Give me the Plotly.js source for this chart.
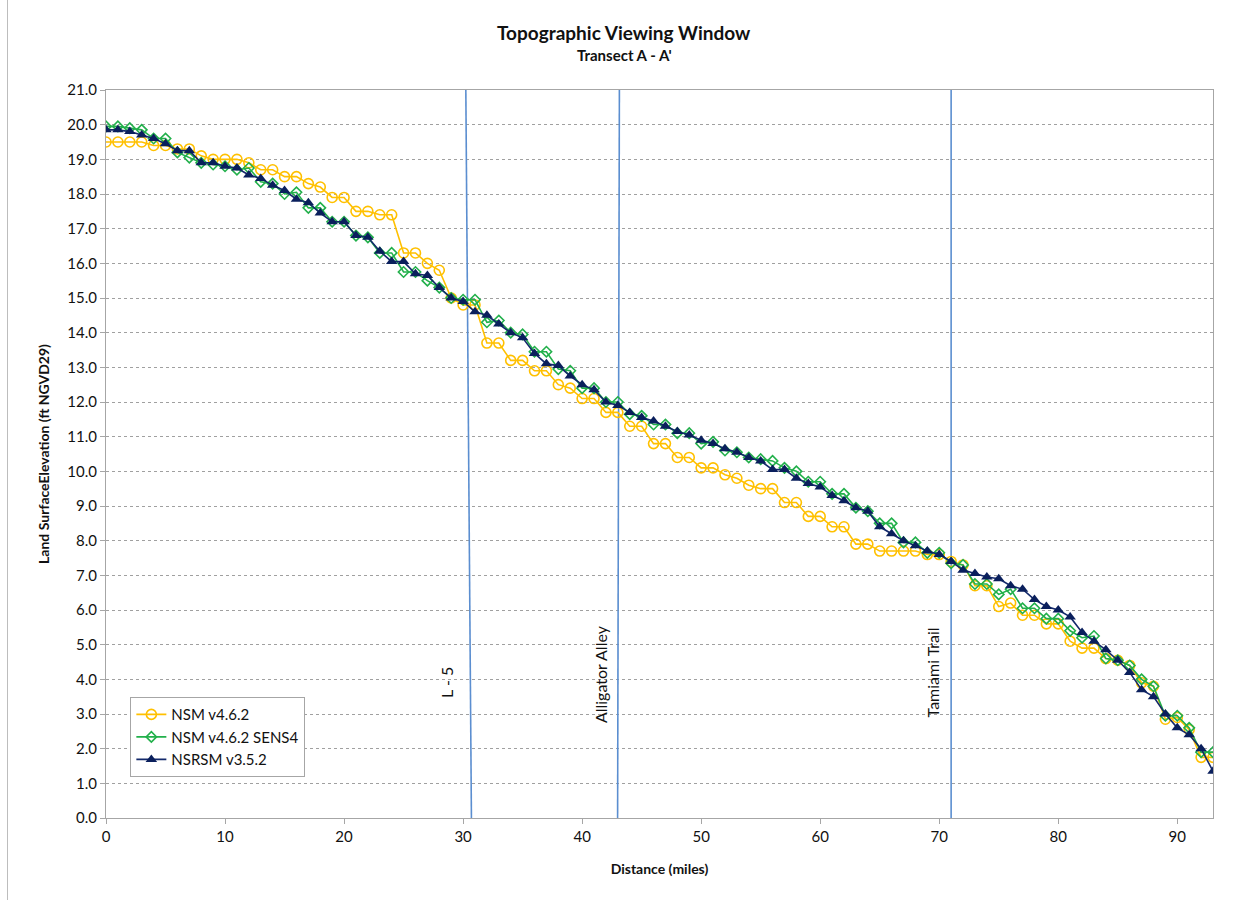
<!DOCTYPE html>
<html>
<head>
<meta charset="utf-8">
<script src="https://cdn.plot.ly/plotly-3.0.1.min.js"></script>
<style>
html,body{margin:0;padding:0;background:#fff;}
#frame{position:absolute;left:7px;top:0;width:1px;height:900px;background:#bdbdbd;}
#chart{position:absolute;left:0;top:0;width:1241px;height:900px;}
</style>
</head>
<body>
<div id="chart"></div>
<div id="frame"></div>
<script>
// Distance (miles)
const distance = Array.from({length: 94}, (_, i) => i);

const nsm462 = [19.5,19.5,19.5,19.5,19.4,19.4,19.3,19.3,19.1,19.0,
  19.0,19.0,18.9,18.7,18.7,18.5,18.5,18.3,18.2,17.9,
  17.9,17.5,17.5,17.4,17.4,16.3,16.3,16.0,15.8,15.0,
  14.8,14.8,13.7,13.7,13.2,13.2,12.9,12.9,12.5,12.4,
  12.1,12.1,11.7,11.7,11.3,11.3,10.8,10.8,10.4,10.4,
  10.1,10.1,9.9,9.8,9.6,9.5,9.5,9.1,9.1,8.7,
  8.7,8.4,8.4,7.9,7.9,7.7,7.7,7.7,7.7,7.6,
  7.6,7.4,7.3,6.7,6.7,6.1,6.2,5.85,5.85,5.6,
  5.6,5.1,4.9,4.9,4.6,4.55,4.4,3.9,3.8,2.85,
  2.9,2.55,1.75,1.75];

const nsm462sens4 = [19.95,19.95,19.9,19.85,19.6,19.6,19.2,19.05,18.9,18.85,
  18.8,18.7,18.75,18.35,18.3,18.0,18.05,17.6,17.6,17.2,
  17.2,16.8,16.75,16.3,16.3,15.75,15.75,15.5,15.3,15.0,
  14.95,14.95,14.3,14.35,14.0,13.95,13.45,13.45,12.95,12.9,
  12.4,12.4,12.0,12.0,11.65,11.6,11.35,11.35,11.1,11.1,
  10.8,10.85,10.6,10.55,10.4,10.35,10.3,10.1,10.0,9.7,
  9.7,9.35,9.35,8.95,8.85,8.5,8.5,7.95,7.95,7.65,
  7.65,7.35,7.3,6.75,6.75,6.45,6.6,6.05,6.05,5.75,
  5.75,5.4,5.2,5.25,4.6,4.55,4.4,4.0,3.8,2.95,
  2.95,2.6,1.9,1.9];

const nsrsm352 = [19.85,19.85,19.8,19.7,19.6,19.45,19.25,19.25,18.9,18.9,
  18.8,18.75,18.55,18.45,18.25,18.1,17.85,17.75,17.45,17.2,
  17.2,16.8,16.75,16.35,16.05,16.05,15.7,15.65,15.3,15.0,
  14.9,14.6,14.5,14.25,14.0,13.85,13.4,13.1,13.05,12.75,
  12.5,12.35,12.0,11.9,11.7,11.55,11.45,11.3,11.15,11.05,
  10.9,10.8,10.65,10.55,10.4,10.3,10.05,10.05,9.8,9.65,
  9.55,9.3,9.15,8.95,8.85,8.4,8.2,8.0,7.85,7.7,
  7.6,7.4,7.15,7.05,6.95,6.9,6.7,6.6,6.3,6.1,
  6.0,5.8,5.35,5.1,4.85,4.55,4.2,3.7,3.5,3.0,
  2.6,2.4,2.0,1.35];

// Landmark lines: [x at top, x at bottom]
const landmarkNames = ['L - 5', 'Alligator Alley', 'Tamiami Trail'];
const landmarkTopX = [30.23, 43.13, 71.0];
const landmarkBottomX = [30.7, 42.98, 71.0];
const landmarkLabelX = [28.66, 41.5, 69.4];
const landmarkLabelY = [3.9, 4.15, 4.2];
const landmarkYRange = [21, 0];

const FONT = 'Lato, "Open Sans", sans-serif';

const traces = [];
landmarkNames.forEach((n, k) => {
  traces.push({
    x: [landmarkTopX[k], landmarkBottomX[k]], y: landmarkYRange,
    mode: 'lines', line: {color: '#5B8ED0', width: 1.6},
    showlegend: false, hoverinfo: 'skip'
  });
});
traces.push({
  name: 'NSM v4.6.2', x: distance, y: nsm462, mode: 'lines+markers',
  line: {color: '#FFC000', width: 1.6},
  marker: {symbol: 'circle-open', size: 10, color: '#FFC000', line: {width: 1.6, color: '#FFC000'}}
});
traces.push({
  name: 'NSM v4.6.2 SENS4', x: distance, y: nsm462sens4, mode: 'lines+markers',
  line: {color: '#22B04B', width: 1.6},
  marker: {symbol: 'diamond-open', size: 8, color: '#22B04B', line: {width: 1.6, color: '#22B04B'}}
});
traces.push({
  name: 'NSRSM v3.5.2', x: distance, y: nsrsm352, mode: 'lines+markers',
  line: {color: '#13296B', width: 1.6},
  marker: {symbol: 'triangle-up', size: 10, color: '#0A1F5C'}
});

const annotations = [
  {text: '<b>Topographic Viewing Window</b>', xref: 'paper', yref: 'paper', x: 0.468, y: 1, yanchor: 'middle', yshift: 58,
   showarrow: false, font: {family: FONT, size: 19, color: '#111'}},
  {text: '<b>Transect A - A\'</b>', xref: 'paper', yref: 'paper', x: 0.468, y: 1, yanchor: 'middle', yshift: 35,
   showarrow: false, font: {family: FONT, size: 15, color: '#111'}}
];
landmarkNames.forEach((n, k) => {
  annotations.push({text: n, x: landmarkLabelX[k], y: landmarkLabelY[k], xref: 'x', yref: 'y',
    textangle: -90, showarrow: false, xanchor: 'center', yanchor: 'middle',
    font: {family: FONT, size: 16, color: '#111'}});
});

const layout = {
  width: 1241, height: 900,
  paper_bgcolor: '#fff', plot_bgcolor: '#fff',
  margin: {l: 106, r: 28, t: 90, b: 82},
  font: {family: FONT, size: 14, color: '#111'},
  showlegend: true,
  legend: {x: 0.022, y: 0.166, xanchor: 'left', yanchor: 'top',
    bgcolor: '#fff', bordercolor: '#a6a6a6', borderwidth: 1,
    font: {family: FONT, size: 15, color: '#111'}, tracegroupgap: 4},
  xaxis: {
    range: [0, 93], tickvals: [0,10,20,30,40,50,60,70,80,90],
    showgrid: false, zeroline: false,
    showline: true, linecolor: '#a6a6a6', linewidth: 1, mirror: true,
    ticks: 'outside', ticklen: 5, tickcolor: '#a6a6a6',
    tickfont: {family: FONT, size: 15, color: '#111'},
    title: {text: '<b>Distance (miles)</b>', font: {family: FONT, size: 14, color: '#111'}, standoff: 20}
  },
  yaxis: {
    range: [0, 21], dtick: 1, tickformat: '.1f',
    showgrid: true, gridcolor: '#a0a0a0', griddash: 'dot', gridwidth: 1,
    zeroline: false,
    showline: true, linecolor: '#a6a6a6', linewidth: 1, mirror: true,
    ticks: 'outside', ticklen: 5, tickcolor: '#a6a6a6',
    tickfont: {family: FONT, size: 15, color: '#111'},
    title: {text: '<b>Land SurfaceElevation (ft NGVD29)</b>', font: {family: FONT, size: 14, color: '#111'}, standoff: 14}
  },
  annotations: annotations
};

Plotly.newPlot('chart', traces, layout, {displayModeBar: false, staticPlot: true});
</script>
</body>
</html>
